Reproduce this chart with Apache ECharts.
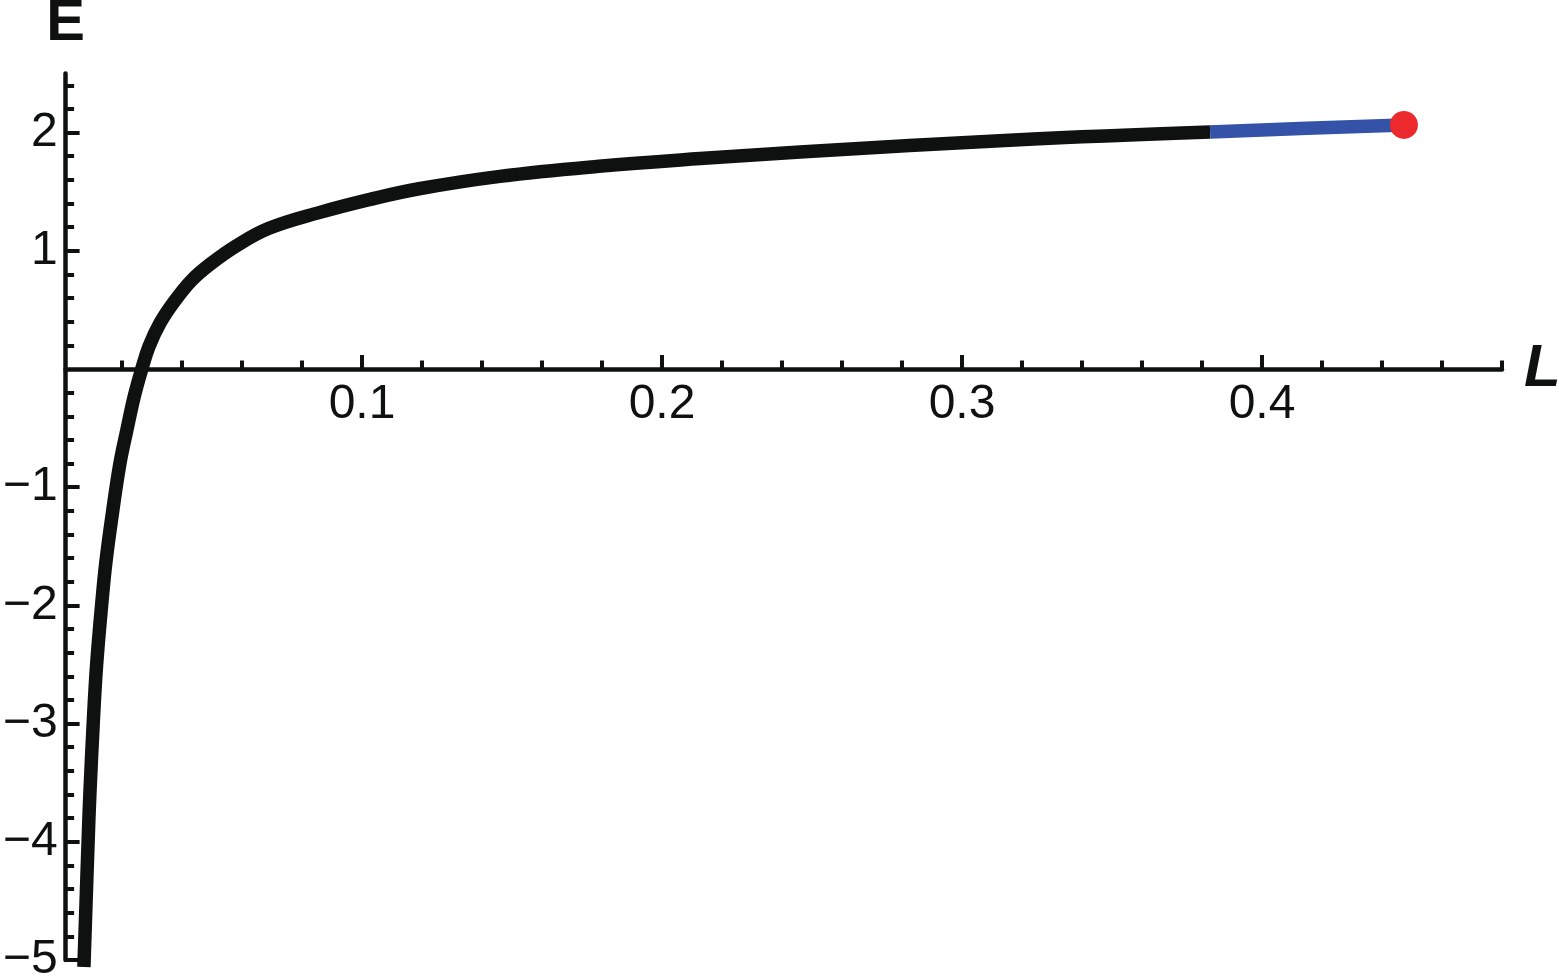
<!DOCTYPE html>
<html>
<head>
<meta charset="utf-8">
<script src="https://cdn.jsdelivr.net/npm/echarts@6/dist/echarts.min.js"></script>
<style>
html,body{margin:0;padding:0;background:#fff;}
#main{width:1559px;height:980px;}
</style>
</head>
<body>
<div id="main"></div>
<script>
// Black branch of the curve (L, E)
var blackL = [0.0073, 0.0087, 0.0093, 0.0104, 0.0112, 0.0120, 0.0132, 0.0146, 0.0168, 0.0193, 0.0216, 0.0241, 0.0266, 0.0290, 0.0327, 0.0377, 0.0432, 0.0493, 0.0583, 0.0690, 0.0860, 0.1027, 0.1190, 0.1460, 0.1790, 0.2127, 0.2460, 0.3190, 0.3827];
var blackE = [-5.06, -4.00, -3.59, -3.00, -2.63, -2.35, -2.00, -1.64, -1.22, -0.80, -0.52, -0.23, 0.00, 0.19, 0.39, 0.58, 0.75, 0.885, 1.045, 1.19, 1.325, 1.435, 1.525, 1.63, 1.715, 1.78, 1.835, 1.94, 2.005];
// Blue branch
var blueL = [0.3827, 0.4150, 0.4473];
var blueE = [2.005, 2.036, 2.065];
// End point
var dotL = [0.4473];
var dotE = [2.065];

// Axes
var xMajorTicks = [0.1, 0.2, 0.3, 0.4];
var xLabels = [0.1, 0.2, 0.3, 0.4];
var xMinorTicks = [0.02, 0.04, 0.06, 0.08, 0.12, 0.14, 0.16, 0.18, 0.22, 0.24, 0.26, 0.28, 0.32, 0.34, 0.36, 0.38, 0.42, 0.44, 0.46, 0.48];
var yMajorTicks = [-5, -4, -3, -2, -1, 1, 2];
var yLabels = [-5, -4, -3, -2, -1, 1, 2];
var yMinorTicks = [-4.8, -4.6, -4.4, -4.2, -3.8, -3.6, -3.4, -3.2, -2.8, -2.6, -2.4, -2.2, -1.8, -1.6, -1.4, -1.2, -0.8, -0.6, -0.4, -0.2, 0.2, 0.4, 0.6, 0.8, 1.2, 1.4, 1.6, 1.8, 2.2, 2.4];
var xMin = 0.0012, xMax = 0.48, yMin = -5, yMax = 2.5;

function pairs(a, b) { return a.map(function (v, i) { return [v, b[i]]; }); }

var FONT = '"Liberation Sans", Arial, Helvetica, sans-serif';
var INK = '#0f1110';

// grid 0: full plot (data + y axis); grid 1: upper part whose bottom edge is E = 0 (carries the L axis)
var G_LEFT = 65.6, G_RIGHT = 57, G_TOP = 73.5, G_BOTTOM = 20;
var plotH = 980 - G_TOP - G_BOTTOM;
var zeroBottom = G_BOTTOM + plotH * (0 - yMin) / (yMax - yMin);

var chart = echarts.init(document.getElementById('main'), null, {renderer: 'canvas'});
chart.setOption({
  backgroundColor: '#ffffff',
  animation: false,
  grid: [
    {left: G_LEFT, right: G_RIGHT, top: G_TOP, bottom: G_BOTTOM, containLabel: false, outerBoundsMode: 'none'},
    {left: G_LEFT, right: G_RIGHT, top: G_TOP, bottom: zeroBottom, containLabel: false, outerBoundsMode: 'none'}
  ],
  xAxis: [{
    gridIndex: 0, type: 'value', min: xMin, max: xMax, show: false
  }, {
    gridIndex: 1, type: 'value', min: xMin, max: xMax, position: 'bottom',
    axisLine: {show: true, onZero: false, lineStyle: {color: INK, width: 4.5}},
    axisTick: {show: true, inside: true, length: 14, lineStyle: {color: INK, width: 4}, customValues: xMajorTicks},
    axisLabel: {show: true, margin: 12, fontSize: 48, color: INK, fontFamily: FONT, customValues: xLabels,
      formatter: function (v) { return String(Math.round(v * 10) / 10); }},
    splitLine: {show: false},
    name: 'L', nameLocation: 'end', nameGap: 22,
    nameTextStyle: {fontSize: 60, fontWeight: 'bold', fontStyle: 'italic', color: INK, fontFamily: FONT, verticalAlign: 'middle'}
  }, {
    gridIndex: 1, type: 'value', min: xMin, max: xMax, position: 'bottom',
    axisLine: {show: false, onZero: false},
    axisTick: {show: true, inside: true, length: 8.5, lineStyle: {color: INK, width: 4}, customValues: xMinorTicks},
    axisLabel: {show: false},
    splitLine: {show: false}
  }],
  yAxis: [{
    gridIndex: 0, type: 'value', min: yMin, max: yMax, position: 'left',
    axisLine: {show: true, onZero: false, lineStyle: {color: INK, width: 4.5}},
    axisTick: {show: true, inside: true, length: 14, lineStyle: {color: INK, width: 4}, customValues: yMajorTicks},
    axisLabel: {show: true, margin: 8, fontSize: 48, color: INK, fontFamily: FONT, customValues: yLabels,
      formatter: function (v) { return v < 0 ? '\u2212' + Math.abs(v) : String(v); }},
    splitLine: {show: false},
    name: 'E', nameLocation: 'end', nameGap: 21,
    nameTextStyle: {fontSize: 58, fontWeight: 'bold', color: INK, fontFamily: FONT, align: 'center'}
  }, {
    gridIndex: 0, type: 'value', min: yMin, max: yMax, position: 'left',
    axisLine: {show: false, onZero: false},
    axisTick: {show: true, inside: true, length: 8.5, lineStyle: {color: INK, width: 4}, customValues: yMinorTicks},
    axisLabel: {show: false},
    splitLine: {show: false}
  }, {
    gridIndex: 1, type: 'value', min: 0, max: yMax, show: false
  }],
  series: [{
    type: 'line', xAxisIndex: 0, yAxisIndex: 0,
    data: pairs(blackL, blackE),
    smooth: 0.4, showSymbol: false, clip: false,
    lineStyle: {color: INK, width: 13.5, cap: 'butt', join: 'round'}, z: 3
  }, {
    type: 'line', xAxisIndex: 0, yAxisIndex: 0,
    data: pairs(blueL, blueE),
    smooth: false, showSymbol: false, clip: false,
    lineStyle: {color: '#3352a8', width: 13.5, cap: 'butt'}, z: 4
  }, {
    type: 'scatter', xAxisIndex: 0, yAxisIndex: 0,
    data: pairs(dotL, dotE),
    symbol: 'circle', symbolSize: 28, clip: false,
    itemStyle: {color: '#ec2a2e', opacity: 1}, z: 5
  }]
});
</script>
</body>
</html>
